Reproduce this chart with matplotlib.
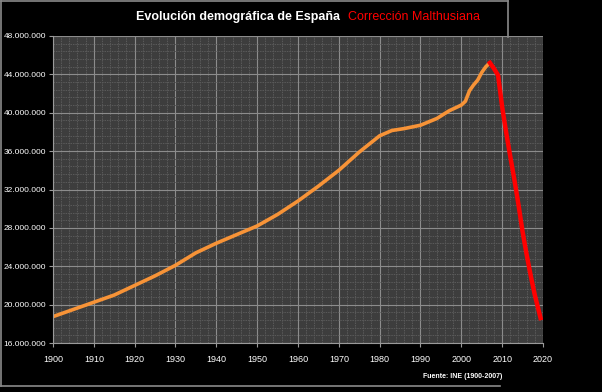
import matplotlib.pyplot as plt
from matplotlib.lines import Line2D
from matplotlib.ticker import FuncFormatter, MultipleLocator

# data (population, millions)
years_ine = [1900, 1905, 1910, 1915, 1920, 1925, 1930, 1935, 1940, 1945,
             1950, 1955, 1960, 1965, 1970, 1975, 1980, 1983, 1986, 1990,
             1994, 1997, 2000, 2001, 2002, 2003, 2004, 2005, 2006, 2007]
pop_ine = [18.75, 19.5, 20.25, 21.0, 22.0, 23.0, 24.1, 25.4, 26.4, 27.3,
           28.2, 29.4, 30.8, 32.35, 34.0, 35.9, 37.6, 38.15, 38.35, 38.7,
           39.4, 40.2, 40.8, 41.2, 42.3, 42.9, 43.4, 44.2, 44.8, 45.2]

years_malthus = [2007, 2008, 2009, 2010, 2011, 2012, 2013, 2014, 2015,
                 2016, 2017, 2018, 2019.4]
pop_malthus = [45.2, 44.6, 43.9, 40.6, 37.9, 35.4, 33.0, 30.4, 27.6,
               25.2, 23.0, 21.0, 18.6]

x_ticks = list(range(1900, 2021, 10))
y_ticks = list(range(16, 49, 4))

BG = '#3d3d3d'
GRID = '#8c8c8c'
FONT = ['Liberation Sans Narrow', 'Liberation Sans', 'DejaVu Sans']


def fmt_millions(v, pos):
    return '{:,}'.format(int(round(v * 1e6))).replace(',', '.')


def main():
    fig = plt.figure(figsize=(6.02, 3.92), dpi=100, facecolor='black')
    ax = fig.add_axes([53 / 602, 1 - 343 / 392, 490 / 602, 307 / 392])
    ax.set_facecolor(BG)

    ax.set_xlim(1900, 2020)
    ax.set_ylim(16, 48)
    ax.set_xticks(x_ticks)
    ax.set_yticks(y_ticks)
    ax.xaxis.set_minor_locator(MultipleLocator(2))
    ax.yaxis.set_minor_locator(MultipleLocator(0.8))
    ax.yaxis.set_major_formatter(FuncFormatter(fmt_millions))

    ax.grid(which='major', color=GRID, linewidth=0.8)
    ax.grid(which='minor', color='#5a5a5a', linewidth=0.7, linestyle=(0, (1.5, 1)))
    ax.set_axisbelow(True)

    for side in ['top', 'right']:
        ax.spines[side].set_visible(False)
    for side in ['left', 'bottom']:
        ax.spines[side].set_color('#9a9a9a')
        ax.spines[side].set_linewidth(0.8)

    ax.tick_params(which='major', colors='#9a9a9a', length=3, width=0.8,
                   labelcolor='white', labelsize=6.5)
    ax.tick_params(which='minor', length=0)
    ax.tick_params(axis='x', pad=6)
    ax.tick_params(axis='y', pad=2, labelsize=6)
    for lbl in ax.get_xticklabels() + ax.get_yticklabels():
        lbl.set_family(FONT)

    ax.plot(years_ine, pop_ine, color='#f79337', linewidth=2.6,
            solid_capstyle='round', solid_joinstyle='round')
    ax.plot(years_malthus, pop_malthus, color='#ff0000', linewidth=3.2)

    fig.text(340 / 602, 1 - 17 / 392, 'Evolución demográfica de España',
             color='white', fontsize=9, fontweight='bold', ha='right',
             va='center', family=FONT)
    fig.text(348 / 602, 1 - 17 / 392, 'Corrección Malthusiana',
             color='#ff0000', fontsize=9, ha='left', va='center', family=FONT)
    fig.text(463 / 602, 1 - 377 / 392, 'Fuente: INE (1900-2007)',
             color='white', fontsize=5, fontweight='bold', ha='center',
             va='center', family=FONT)

    # frame of the original chart box
    W, H = 602.0, 392.0
    frame = [((1, 1), (1, 386)), ((1, 508), (1, 1)), ((508, 508), (1, 37)),
             ((1, 500), (386, 386))]
    for xs, ys in frame:
        fig.add_artist(Line2D([x / W for x in xs], [1 - y / H for y in ys],
                              transform=fig.transFigure, color='#8a8a8a',
                              linewidth=1.2))

    fig.savefig('out.png', dpi=100, facecolor='black')


if __name__ == "__main__":
    main()
